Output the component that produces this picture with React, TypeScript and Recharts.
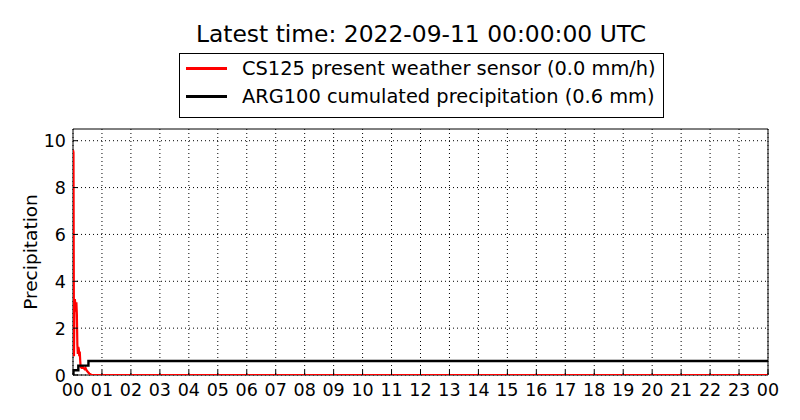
import React from "react";
import {
  LineChart,
  Line,
  XAxis,
  YAxis,
  CartesianGrid,
  Legend,
  ReferenceArea,
} from "recharts";

// CS125 present weather sensor, minutes after 00:00 UTC and rain rate (mm/h)
const rateMinutes = [
  0, 1, 2, 3, 4, 5, 6, 7, 8, 9, 10, 11, 12, 13, 14, 15, 16, 17, 18, 19, 20,
  22, 24, 26, 28, 30, 32, 34, 36, 38, 40, 1440,
];
const rateValues = [
  9.6, 9.5, 0.8, 3.2, 3.2, 3.0, 2.7, 3.1, 2.6, 1.3, 0.9, 1.2, 1.1, 0.8, 1.0,
  0.6, 0.3, 0.4, 0.3, 0.3, 0.35, 0.3, 0.25, 0.3, 0.2, 0.15, 0.1, 0.06, 0.03,
  0.01, 0, 0,
];

// ARG100 cumulated precipitation (mm)
const cumMinutes = [0, 1, 11, 32, 1440];
const cumValues = [0, 0.2, 0.4, 0.6, 0.6];

const hourTicks = [
  0, 1, 2, 3, 4, 5, 6, 7, 8, 9, 10, 11, 12, 13, 14, 15, 16, 17, 18, 19, 20,
  21, 22, 23, 24,
];
const yTicks = [0, 2, 4, 6, 8, 10];

const seriesNames = [
  "CS125 present weather sensor (0.0 mm/h)",
  "ARG100 cumulated precipitation (0.6 mm)",
];
const title = "Latest time: 2022-09-11 00:00:00 UTC";

const rateData = rateMinutes.map((m, i) => ({ t: m / 60, v: rateValues[i] }));
const cumData = cumMinutes.map((m, i) => ({ t: m / 60, v: cumValues[i] }));

const FONT = "'DejaVu Sans', sans-serif";

const BottomTick = (props: any) => {
  const { x, y, payload } = props;
  const h = payload.value % 24;
  return (
    <g>
      <line x1={x} x2={x} y1={y} y2={y - 5} stroke="#000" strokeWidth={1} />
      <text
        x={x}
        y={y + 21}
        textAnchor="middle"
        fontSize={17.5}
        fontFamily={FONT}
        fill="#000"
      >
        {String(h).padStart(2, "0")}
      </text>
    </g>
  );
};

const TopTick = (props: any) => {
  const { x, y } = props;
  return <line x1={x} x2={x} y1={y} y2={y + 5} stroke="#000" strokeWidth={1} />;
};

const LeftTick = (props: any) => {
  const { x, y, payload } = props;
  return (
    <g>
      <line x1={x} x2={x + 5} y1={y} y2={y} stroke="#000" strokeWidth={1} />
      <text
        x={x - 7}
        y={y + 6.5}
        textAnchor="end"
        fontSize={17.5}
        fontFamily={FONT}
        fill="#000"
      >
        {payload.value}
      </text>
    </g>
  );
};

const RightTick = (props: any) => {
  const { x, y } = props;
  return <line x1={x} x2={x - 5} y1={y} y2={y} stroke="#000" strokeWidth={1} />;
};

const LegendBox = () => {
  const colors = ["#ff0000", "#000000"];
  return (
    <div style={{ width: 800, fontFamily: FONT, color: "#000" }}>
      <div
        style={{
          textAlign: "center",
          fontSize: 23.4,
          lineHeight: "28px",
          paddingLeft: 42,
          marginTop: 20,
        }}
      >
        {title}
      </div>
      <div
        style={{
          position: "absolute",
          left: 179,
          top: 53,
          width: 483,
          height: 63,
          border: "1px solid #000",
          background: "#fff",
        }}
      >
        {seriesNames.map((n, i) => (
          <div
            key={n}
            style={{
              position: "absolute",
              left: 6,
              top: 1 + i * 28.5,
              height: 26,
              display: "flex",
              alignItems: "center",
              fontSize: 19.4,
              whiteSpace: "nowrap",
            }}
          >
            <span
              style={{
                display: "inline-block",
                width: 41,
                height: 3,
                background: colors[i],
                marginRight: 15,
              }}
            />
            {n}
          </div>
        ))}
      </div>
    </div>
  );
};

export default function App() {
  return (
    <div
      style={{
        position: "absolute",
        left: 0,
        top: 0,
        width: 800,
        height: 420,
        background: "#fff",
        fontFamily: FONT,
      }}
    >
      <LineChart
        width={800}
        height={420}
        margin={{ top: 129, right: 32, bottom: 0, left: 0 }}
      >
        <CartesianGrid
          xAxisId="b"
          yAxisId="l"
          stroke="#000"
          strokeDasharray="1 3"
          strokeWidth={1}
          horizontalValues={yTicks}
          verticalValues={hourTicks}
        />
        <XAxis
          xAxisId="b"
          dataKey="t"
          type="number"
          domain={[0, 24]}
          ticks={hourTicks}
          interval={0}
          allowDataOverflow
          height={45}
          tickSize={0}
          tickMargin={0}
          axisLine={false}
          tickLine={false}
          tick={<BottomTick />}
        />
        <XAxis
          xAxisId="t"
          orientation="top"
          dataKey="t"
          type="number"
          domain={[0, 24]}
          ticks={hourTicks}
          interval={0}
          height={0}
          tickSize={0}
          tickMargin={0}
          axisLine={false}
          tickLine={false}
          tick={<TopTick />}
        />
        <YAxis
          yAxisId="l"
          type="number"
          domain={[0, 10.5]}
          ticks={yTicks}
          interval={0}
          allowDataOverflow
          width={73}
          tickSize={0}
          tickMargin={0}
          axisLine={false}
          tickLine={false}
          tick={<LeftTick />}
          label={{
            value: "Precipitation",
            angle: -90,
            position: "insideLeft",
            offset: 30,
            style: { fontSize: 18.5, fontFamily: FONT, fill: "#000", textAnchor: "middle" },
          }}
        />
        <YAxis
          yAxisId="r"
          orientation="right"
          type="number"
          domain={[0, 10.5]}
          ticks={yTicks}
          interval={0}
          width={0}
          tickSize={0}
          tickMargin={0}
          axisLine={false}
          tickLine={false}
          tick={<RightTick />}
        />
        <ReferenceArea
          xAxisId="b"
          yAxisId="l"
          x1={0}
          x2={24}
          y1={0}
          y2={10.5}
          fill="none"
          stroke="#000"
          strokeWidth={1}
          ifOverflow="visible"
        />
        <Legend
          layout="horizontal"
          verticalAlign="middle"
          align="center"
          wrapperStyle={{ top: 0, left: 0, width: 800 }}
          content={<LegendBox />}
        />
        <Line
          xAxisId="b"
          yAxisId="l"
          data={rateData}
          dataKey="v"
          name={seriesNames[0]}
          type="linear"
          stroke="#ff0000"
          strokeWidth={2.2}
          dot={false}
          isAnimationActive={false}
        />
        <Line
          xAxisId="b"
          yAxisId="l"
          data={cumData}
          dataKey="v"
          name={seriesNames[1]}
          type="stepAfter"
          stroke="#000000"
          strokeWidth={2.4}
          dot={false}
          isAnimationActive={false}
        />
      </LineChart>
    </div>
  );
}
